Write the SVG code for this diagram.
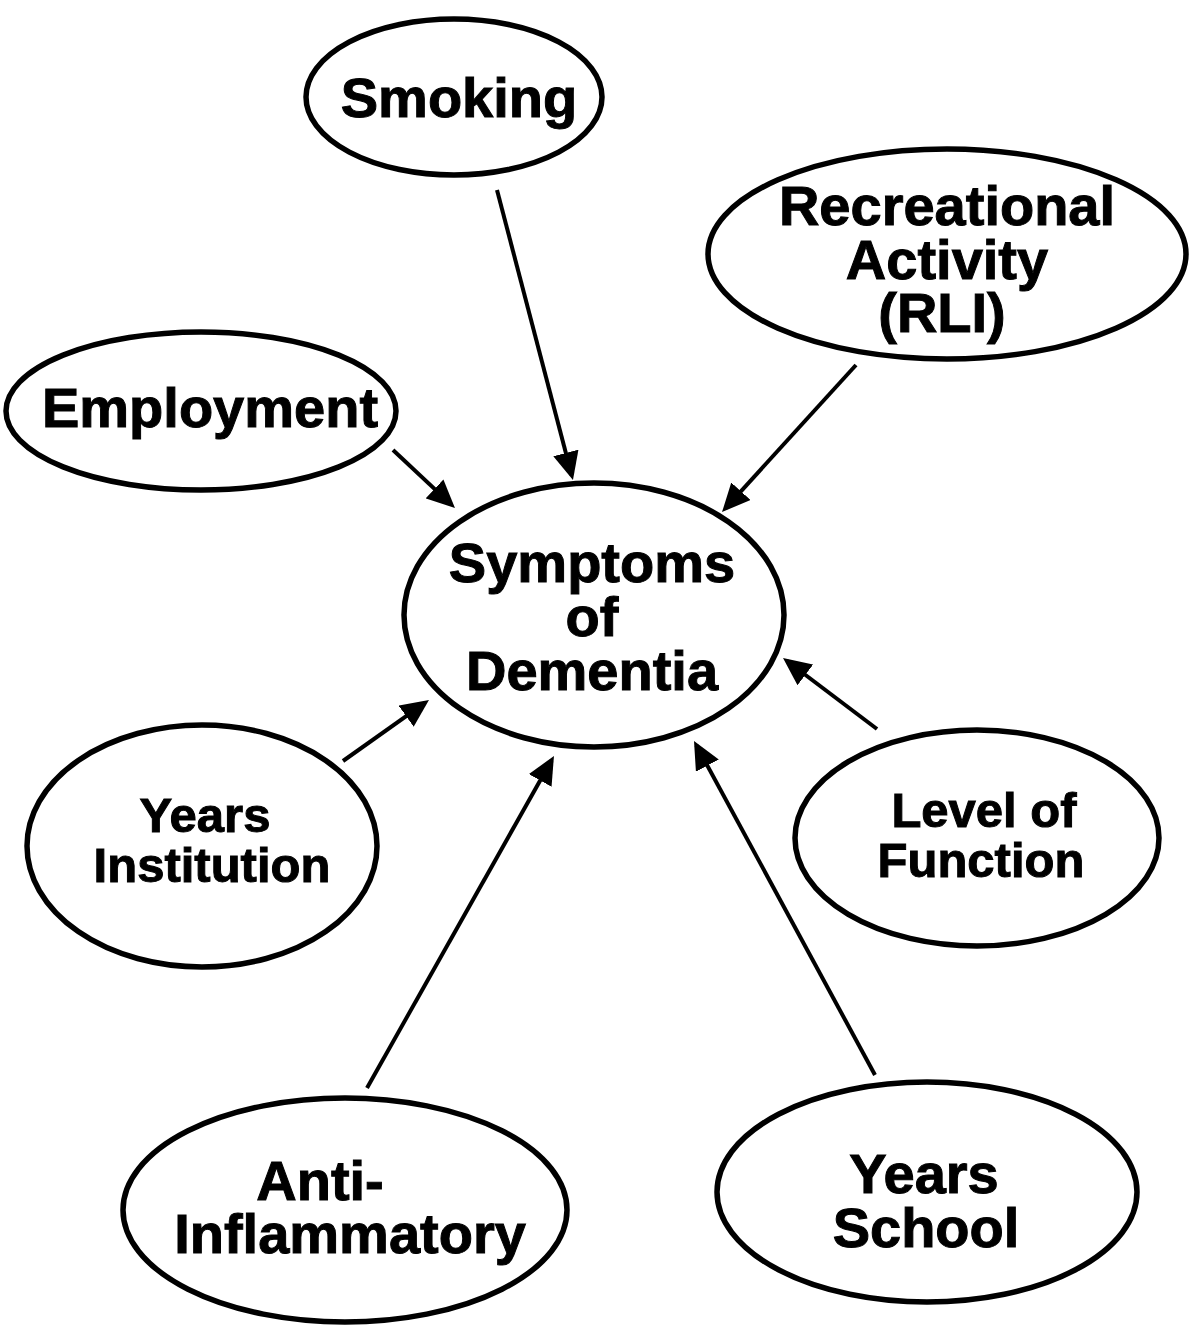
<svg xmlns="http://www.w3.org/2000/svg" width="1190" height="1326" viewBox="0 0 1190 1326">
<style>
  .node { fill: #ffffff; stroke: #000000; stroke-width: 5.5; }
  .lbl { font-family: "Liberation Sans", Arial, Helvetica, sans-serif; font-weight: bold; font-size: 56px; fill: #000000; stroke: #000000; stroke-width: 1; text-anchor: middle; }
  .sm { font-size: 49px; }
  .edge { stroke: #000000; stroke-width: 4; fill: none; marker-end: url(#arrow); }
</style>
<defs>
  <marker id="arrow" viewBox="0 0 28 26" refX="23" refY="13" markerWidth="28" markerHeight="26" markerUnits="userSpaceOnUse" orient="auto">
    <path d="M0,0 L28,13 L0,26 Z" fill="#000000"/>
  </marker>
</defs>
<rect width="1190" height="1326" fill="#ffffff"/>
<g id="connectors">
  <line class="edge" x1="497" y1="190" x2="571.7" y2="475.2"/>
  <line class="edge" x1="856" y1="365" x2="725.4" y2="508.3"/>
  <line class="edge" x1="393" y1="450" x2="451.3" y2="504.6"/>
  <line class="edge" x1="343" y1="761" x2="424.9" y2="702.9"/>
  <line class="edge" x1="367" y1="1088" x2="551.5" y2="760.4"/>
  <line class="edge" x1="875" y1="1075" x2="696.4" y2="745.4"/>
  <line class="edge" x1="877" y1="729" x2="787" y2="661"/>
</g>
<g id="smoking">
  <ellipse class="node" cx="454" cy="97" rx="148" ry="78"/>
  <text class="lbl" x="459" y="117">Smoking</text>
</g>
<g id="recreational">
  <ellipse class="node" cx="947" cy="254" rx="239" ry="105"/>
  <text class="lbl" x="947" y="225">Recreational</text>
  <text class="lbl" x="947" y="279">Activity</text>
  <text class="lbl" x="942" y="332">(RLI)</text>
</g>
<g id="employment">
  <ellipse class="node" cx="201" cy="411" rx="195" ry="79"/>
  <text class="lbl" x="210" y="427">Employment</text>
</g>
<g id="dementia">
  <ellipse class="node" cx="594" cy="615" rx="190" ry="132"/>
  <text class="lbl" x="592" y="582">Symptoms</text>
  <text class="lbl" x="592" y="636">of</text>
  <text class="lbl" x="592" y="690">Dementia</text>
</g>
<g id="institution">
  <ellipse class="node" cx="202" cy="846" rx="175" ry="121"/>
  <text class="lbl sm" x="205" y="832">Years</text>
  <text class="lbl sm" x="212" y="882">Institution</text>
</g>
<g id="function">
  <ellipse class="node" cx="977" cy="838" rx="182" ry="108"/>
  <text class="lbl sm" x="984" y="827">Level of</text>
  <text class="lbl sm" x="981" y="877">Function</text>
</g>
<g id="antiinflammatory">
  <ellipse class="node" cx="345" cy="1210" rx="222" ry="112"/>
  <text class="lbl" x="320" y="1200">Anti-</text>
  <text class="lbl" x="350" y="1253">Inflammatory</text>
</g>
<g id="school">
  <ellipse class="node" cx="927" cy="1192" rx="210" ry="110"/>
  <text class="lbl" x="924" y="1193">Years</text>
  <text class="lbl" x="926" y="1247">School</text>
</g>
</svg>
